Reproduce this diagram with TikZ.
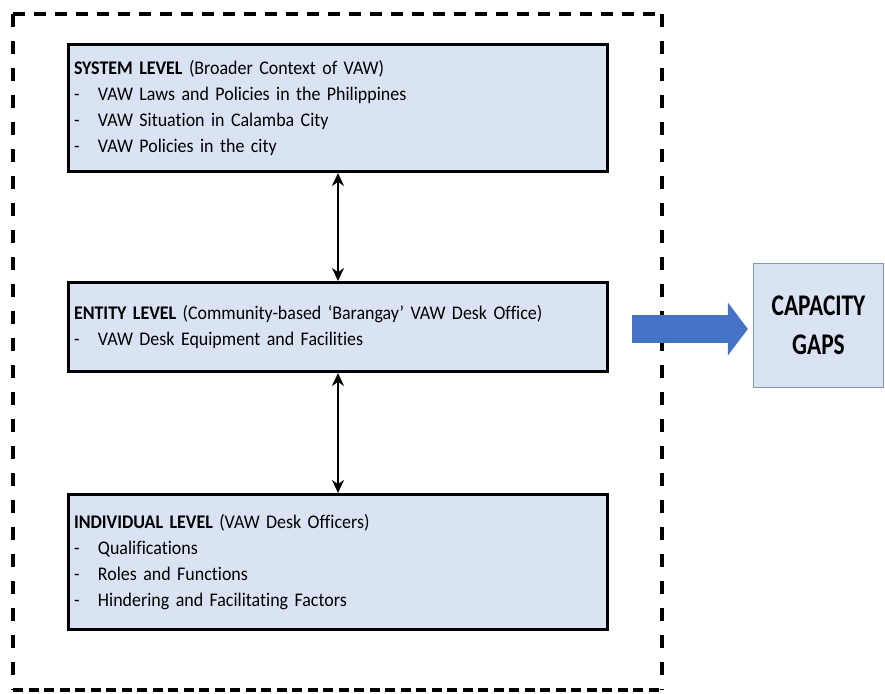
\documentclass[tikz,border=0pt]{standalone}
\usepackage{fontspec}
\setmainfont[FakeStretch=0.93, WordSpace=0.8, Ligatures=NoCommon]{Carlito}
\newfontfamily\gapfont[FakeStretch=0.78, Ligatures=NoCommon]{Carlito}
\usetikzlibrary{arrows.meta}
\definecolor{boxfill}{HTML}{DAE3F3}
\definecolor{arrowblue}{HTML}{4472C4}
\definecolor{gapedge}{HTML}{8497B0}
\newcommand{\lvitem}[1]{\makebox[24pt][l]{-}#1}
\begin{document}
\begin{tikzpicture}[x=1pt,y=-1pt,
  frame/.style={line width=3.2pt, black},
  level/.style={draw=black, line width=3pt, fill=boxfill,
    text width=528pt, inner xsep=5.5pt, inner ysep=0pt,
    minimum width=539pt, align=left,
    font=\fontsize{19.3}{26}\selectfont},
  link/.style={line width=2.8pt,
    {Stealth[length=13pt,width=12pt]}-{Stealth[length=13pt,width=12pt]}},
  gapbox/.style={draw=gapedge, line width=1.3pt, fill=boxfill,
    minimum width=130pt, minimum height=124pt, align=center,
    font=\gapfont\bfseries\fontsize{30}{39}\selectfont}]
\useasboundingbox (0,0) rectangle (885,693);

% dashed frame around the three levels
\coordinate (ftl) at (13,14);
\coordinate (ftr) at (662,14);
\coordinate (fbl) at (13,690);
\coordinate (fbr) at (662,690);
\draw[frame, dash pattern=on 12pt off 9pt] (ftl) -- (ftr);
\draw[frame, dash pattern=on 13pt off 14pt] (ftl) -- (fbl);
\draw[frame, dash pattern=on 13pt off 14pt] (ftr) -- (fbr);
\draw[frame, dash pattern=on 10pt off 5.5pt] (fbl) -- (fbr);

% the three levels
\node[level, minimum height=127pt] (sys) at (338,108)
  {\textbf{SYSTEM LEVEL} (Broader Context of VAW)\\
   \lvitem{VAW Laws and Policies in the Philippines}\\
   \lvitem{VAW Situation in Calamba City}\\
   \lvitem{VAW Policies in the city}};
\node[level, minimum height=89pt] (ent) at (338,327)
  {\textbf{ENTITY LEVEL} (Community-based ‘Barangay’ VAW Desk Office)\\
   \lvitem{VAW Desk Equipment and Facilities}};
\node[level, minimum height=135pt] (ind) at (338,562)
  {\textbf{INDIVIDUAL LEVEL} (VAW Desk Officers)\\
   \lvitem{Qualifications}\\
   \lvitem{Roles and Functions}\\
   \lvitem{Hindering and Facilitating Factors}};

\draw[link] (sys.south) -- (ent.north);
\draw[link] (ent.south) -- (ind.north);

% outcome
\node[gapbox] (cap) at (818.5,325.5) {CAPACITY\\GAPS};
\coordinate (gstart) at (632,329);
\draw[arrowblue, line width=28pt, shorten >=5pt,
  -{Triangle[length=20pt,width=52pt]}] (gstart) -- (gstart -| cap.west);
\end{tikzpicture}
\end{document}
